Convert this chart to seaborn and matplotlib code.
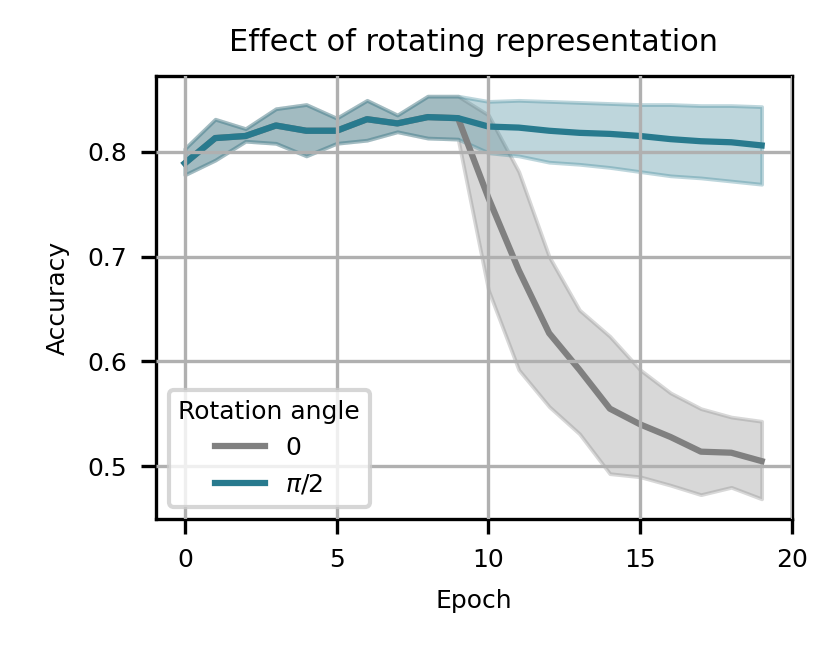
import numpy as np
import pandas as pd
import matplotlib
matplotlib.use("Agg")
import matplotlib.pyplot as plt
import seaborn as sns

epochs = list(range(20))

# Rotation angle pi/2
half_pi_mean = [0.789, 0.813, 0.815, 0.825, 0.820, 0.820, 0.831, 0.827, 0.833, 0.832,
                0.824, 0.823, 0.820, 0.818, 0.817, 0.815, 0.812, 0.810, 0.809, 0.806]
half_pi_upper = [0.803, 0.831, 0.822, 0.841, 0.845, 0.832, 0.849, 0.835, 0.853, 0.853,
                 0.848, 0.849, 0.848, 0.847, 0.846, 0.845, 0.845, 0.844, 0.844, 0.843]
half_pi_lower = [0.778, 0.792, 0.810, 0.808, 0.796, 0.808, 0.811, 0.819, 0.813, 0.812,
                 0.799, 0.796, 0.790, 0.788, 0.785, 0.781, 0.777, 0.775, 0.772, 0.769]

# Rotation angle 0
zero_mean = [0.789, 0.813, 0.815, 0.825, 0.820, 0.820, 0.831, 0.827, 0.833, 0.832,
             0.756, 0.687, 0.627, 0.592, 0.555, 0.540, 0.528, 0.514, 0.513, 0.505]
zero_upper = [0.803, 0.831, 0.822, 0.841, 0.845, 0.832, 0.849, 0.835, 0.853, 0.853,
              0.835, 0.781, 0.700, 0.649, 0.624, 0.592, 0.570, 0.555, 0.547, 0.543]
zero_lower = [0.778, 0.792, 0.810, 0.808, 0.796, 0.808, 0.811, 0.819, 0.813, 0.812,
              0.668, 0.592, 0.557, 0.531, 0.493, 0.490, 0.482, 0.473, 0.480, 0.469]

angle_labels = ["0", r"$\pi/2$"]
colors = ["#808080", "#287a8e"]

rows = []
for label, lo, mid, hi in [(angle_labels[0], zero_lower, zero_mean, zero_upper),
                           (angle_labels[1], half_pi_lower, half_pi_mean, half_pi_upper)]:
    for e, a, b, c in zip(epochs, lo, mid, hi):
        for v in (a, b, c):
            rows.append({"Epoch": e, "Accuracy": v, "Rotation angle": label})
df = pd.DataFrame(rows)

fig = plt.figure(figsize=(829 / 300, 648 / 300), dpi=300)
ax = fig.add_axes([156 / 829, 1 - 519 / 648, (792 - 156) / 829, (519 - 76) / 648])

sns.lineplot(data=df, x="Epoch", y="Accuracy", hue="Rotation angle",
             hue_order=angle_labels, palette=colors, estimator="median",
             errorbar=("pi", 100), linewidth=1.5,
             err_kws={"alpha": 0.3, "linewidth": 0.9}, ax=ax)

ax.set_xlim(-0.95, 20)
ax.set_xticks([0, 5, 10, 15, 20])
ax.set_yticks([0.5, 0.6, 0.7, 0.8])
ax.grid(True, color="#b0b0b0", linewidth=0.8)
ax.set_axisbelow(False)
ax.tick_params(labelsize=6, length=3.5, width=0.8)
for s in ax.spines.values():
    s.set_linewidth(0.8)
ax.set_xlabel("Epoch", fontsize=6)
ax.set_ylabel("Accuracy", fontsize=6)
ax.set_title("Effect of rotating representation", fontsize=7.3, pad=6)

leg = ax.legend(title="Rotation angle", loc="lower left", fontsize=6,
                title_fontsize=6)

fig.savefig("out.png", dpi=300)
